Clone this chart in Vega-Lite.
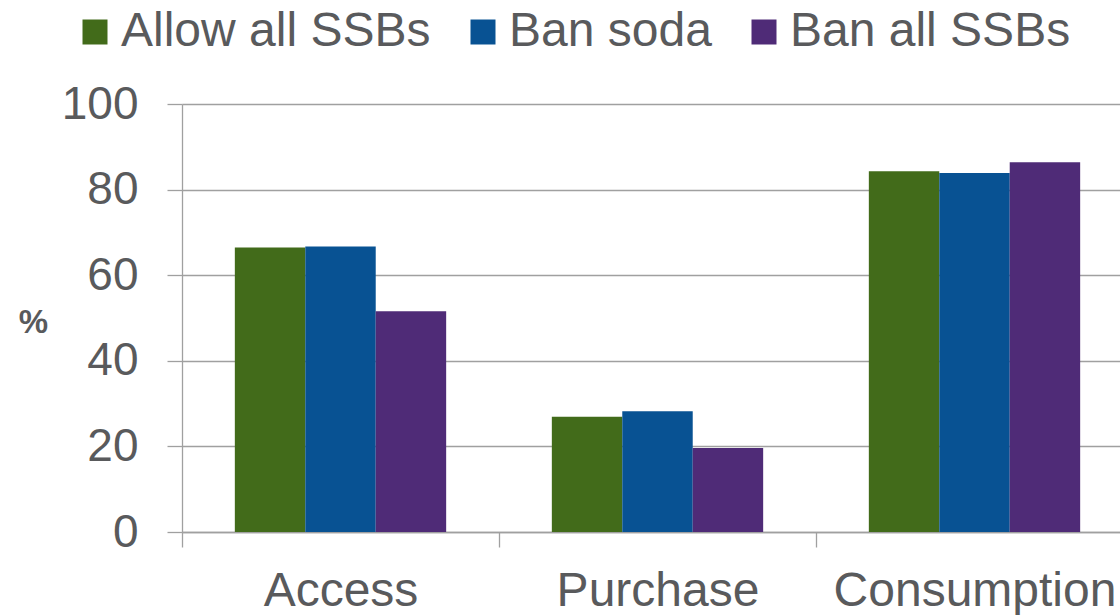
{
  "$schema": "https://vega.github.io/schema/vega-lite/v6.json",
  "width": 951,
  "height": 428,
  "autosize": {"type": "none"},
  "padding": {"left": 182, "top": 104, "right": 0, "bottom": 83},
  "background": "white",
  "data": {
    "values": [
      {"measure": "Access", "policy": "Allow all SSBs", "pct": 66.5},
      {"measure": "Access", "policy": "Ban soda", "pct": 66.7},
      {"measure": "Access", "policy": "Ban all SSBs", "pct": 51.6},
      {"measure": "Purchase", "policy": "Allow all SSBs", "pct": 26.9},
      {"measure": "Purchase", "policy": "Ban soda", "pct": 28.2},
      {"measure": "Purchase", "policy": "Ban all SSBs", "pct": 19.6},
      {"measure": "Consumption", "policy": "Allow all SSBs", "pct": 84.3},
      {"measure": "Consumption", "policy": "Ban soda", "pct": 83.9},
      {"measure": "Consumption", "policy": "Ban all SSBs", "pct": 86.4}
    ]
  },
  "mark": {"type": "bar"},
  "encoding": {
    "x": {
      "field": "measure",
      "type": "nominal",
      "sort": ["Access", "Purchase", "Consumption"],
      "scale": {"paddingInner": 0, "paddingOuter": 0},
      "axis": {
        "title": null,
        "labelAngle": 0,
        "tickBand": "extent",
        "domainColor": "#a0a0a0",
        "domainWidth": 1.3,
        "tickColor": "#a0a0a0",
        "tickWidth": 1.3,
        "tickSize": 15,
        "labelFont": "Liberation Sans",
        "labelFontSize": 48,
        "labelColor": "#595a5c",
        "labelPadding": 20,
        "labelLimit": 500,
        "grid": false
      }
    },
    "xOffset": {
      "field": "policy",
      "type": "nominal",
      "sort": ["Allow all SSBs", "Ban soda", "Ban all SSBs"],
      "scale": {"paddingInner": 0, "paddingOuter": 0.75}
    },
    "y": {
      "field": "pct",
      "type": "quantitative",
      "scale": {"domain": [0, 100], "nice": false},
      "axis": {
        "values": [0, 20, 40, 60, 80, 100],
        "title": "%",
        "titleAngle": 0,
        "titleX": -149,
        "titleY": 218,
        "titleAlign": "center",
        "titleBaseline": "middle",
        "titleFont": "Liberation Sans",
        "titleFontSize": 33,
        "titleFontWeight": "bold",
        "titleColor": "#595a5c",
        "grid": true,
        "gridColor": "#a0a0a0",
        "gridWidth": 1.3,
        "domainColor": "#a0a0a0",
        "domainWidth": 1.3,
        "tickColor": "#a0a0a0",
        "tickWidth": 1.3,
        "tickSize": 15,
        "labelFont": "Liberation Sans",
        "labelFontSize": 46,
        "labelColor": "#595a5c",
        "labelPadding": 29
      }
    },
    "color": {
      "field": "policy",
      "type": "nominal",
      "scale": {
        "domain": ["Allow all SSBs", "Ban soda", "Ban all SSBs"],
        "range": ["#426b1a", "#085293", "#4f2b77"]
      },
      "legend": {
        "title": null,
        "orient": "none",
        "direction": "horizontal",
        "legendX": -111,
        "legendY": -96,
        "padding": 0,
        "symbolType": "square",
        "symbolSize": 625,
        "symbolStrokeWidth": 0,
        "symbolOpacity": 1,
        "labelFont": "Liberation Sans",
        "labelFontSize": 48,
        "labelColor": "#595a5c",
        "labelLimit": 500,
        "labelOffset": 2,
        "columnPadding": 28
      }
    }
  },
  "config": {"view": {"stroke": null}}
}
